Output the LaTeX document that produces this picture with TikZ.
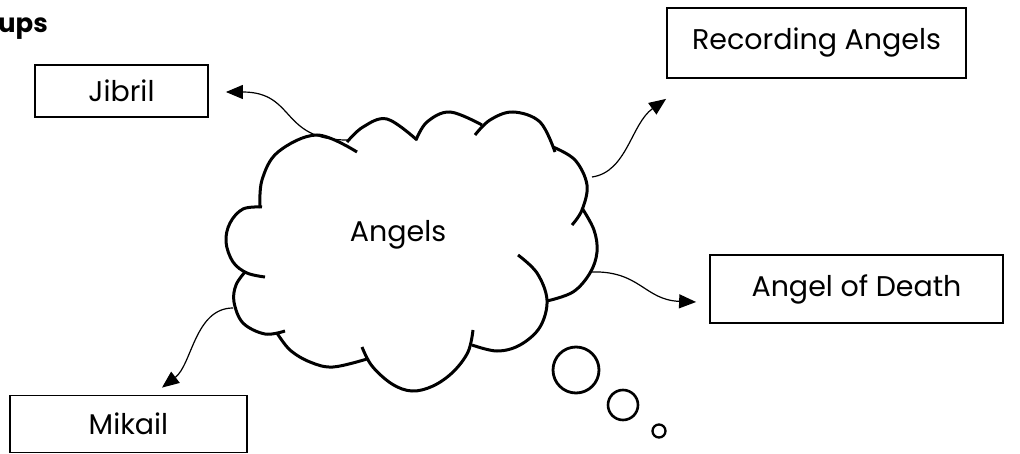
\documentclass[tikz,border=0pt]{standalone}
\usepackage{fontspec}
\setmainfont{Poppins}
\usetikzlibrary{arrows.meta}
\begin{document}
\begin{tikzpicture}[x=1pt,y=-1pt,
  box/.style={draw, line width=1.8pt, inner sep=0pt, font=\fontsize{28.5}{34}\selectfont},
  cloudline/.style={line width=3pt, line cap=butt},
  bump/.style={cloudline},
  conn/.style={line width=1.2pt, -{Triangle[length=17pt,width=14pt]}},
  lbl/.style={font=\fontsize{28.5}{34}\selectfont, inner sep=0pt}
]
\useasboundingbox (0,0) rectangle (1020,454);

% title fragment
\node[anchor=base west, font=\bfseries\fontsize{26}{30}\selectfont, inner sep=0pt] (title) at (-2,33) {ups};

% boxes
\node[box, minimum width=173pt, minimum height=52pt] (jibril) at (121.5,91) {Jibril};
\node[box, minimum width=299pt, minimum height=70pt] (rec) at (816.5,43) {Recording Angels};
\node[box, minimum width=293pt, minimum height=68pt] (death) at (856.5,289) {Angel of Death};
\node[box, minimum width=237pt, minimum height=57pt] (mikail) at (128.5,424) {Mikail};

% cloud outline (bumps)
\draw[bump] plot[smooth, tension=0.6] coordinates {(260,208) (262,180) (278,152) (317,135) (357,152)};
\draw[bump] plot[smooth, tension=0.6] coordinates {(347,142) (363,127) (387,119) (417,140)};
\draw[bump] plot[smooth, tension=0.6] coordinates {(416,140) (427,122) (450,112) (482,125)};
\draw[bump] plot[smooth, tension=0.6] coordinates {(475,135) (490,120) (513,112) (540,122) (555,152)};
\draw[bump] plot[smooth, tension=0.6] coordinates {(553,147) (575,160) (587,185) (582,210) (572,225)};
\draw[bump] plot[smooth, tension=0.6] coordinates {(582,208) (594,230) (597,252) (590,273) (573,292) (547,301)};
\draw[bump] plot[smooth, tension=0.6] coordinates {(518,255) (537,273) (547,300) (540,327) (520,345) (497,351) (472,345)};
\draw[bump] plot[smooth, tension=0.6] coordinates {(473,330) (468,352) (453,372) (433,386) (412,391) (392,384) (372,366) (362,347)};
\draw[bump] plot[smooth, tension=0.6] coordinates {(277,333) (290,350) (310,362) (333,367) (367,359)};
\draw[bump] plot[smooth, tension=0.6] coordinates {(245,272) (236,285) (234,302) (243,323) (265,334) (285,331)};
\draw[bump] plot[smooth, tension=0.6] coordinates {(262,207) (243,209) (230,223) (226,242) (233,262) (247,273) (265,277)};

\node[lbl] (angels) at (398,235) {Angels};

% thought bubbles
\draw[line width=2.8pt] (576,370) circle[radius=23pt];
\draw[line width=2.6pt] (623,405) circle[radius=15pt];
\draw[line width=2.3pt] (659,431) circle[radius=6.5pt];

% connector start points on the cloud
\coordinate (sj) at (347,140);
\coordinate (sr) at (592,177);
\coordinate (sd) at (590,272);
\coordinate (sm) at (233,308);

\draw[conn] (sj) .. controls +(-67,0) and +(70,0) .. ([xshift=17pt,yshift=-1pt]jibril.east);
\draw[conn] (sr) .. controls +(35,-5) and +(-35,25) .. ([yshift=-20pt]rec.south west);
\draw[conn] (sd) .. controls +(50,-2) and +(-52,-2) .. ([xshift=-13pt,yshift=-13pt]death.west);
\draw[conn] (sm) .. controls +(-38,0) and +(30,-23) .. ([xshift=33.5pt,yshift=7pt]mikail.north);
\end{tikzpicture}
\end{document}
